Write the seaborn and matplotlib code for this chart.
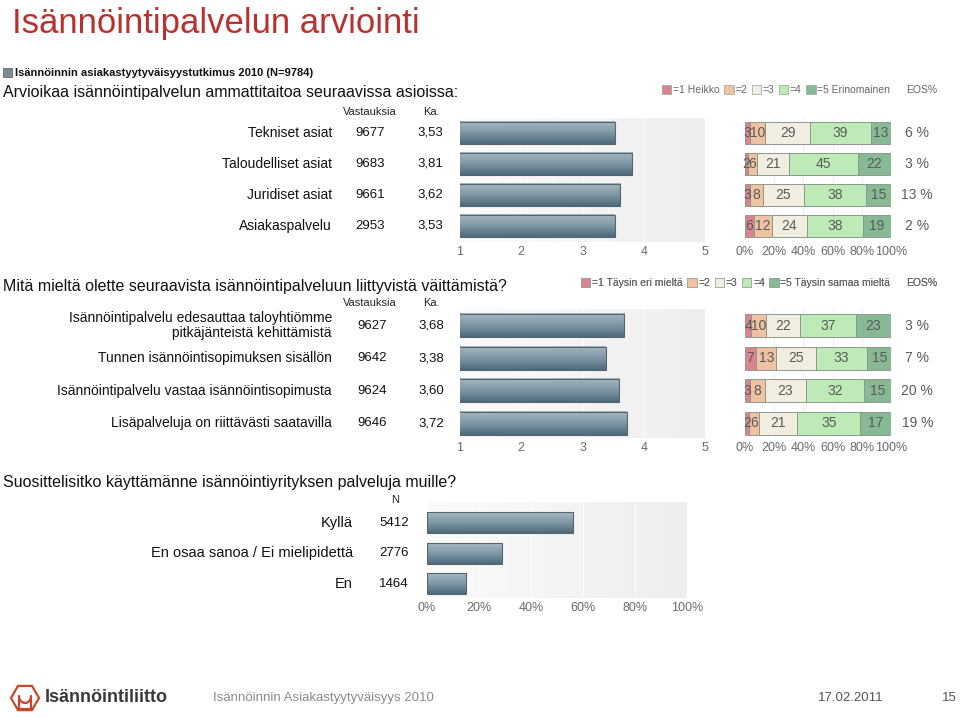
import numpy as np
import pandas as pd
import matplotlib
matplotlib.use("Agg")
import matplotlib.pyplot as plt
import seaborn as sns
from matplotlib.patches import Patch, Rectangle, RegularPolygon, Arc
from matplotlib.transforms import blended_transform_factory

# --- data ---
ammatti_items = ["Tekniset asiat", "Taloudelliset asiat", "Juridiset asiat", "Asiakaspalvelu"]
ammatti_n = [9677, 9683, 9661, 2953]
ammatti_ka = [3.53, 3.81, 3.62, 3.53]
ammatti_jakauma = [[3, 10, 29, 39, 13], [2, 6, 21, 45, 22], [3, 8, 25, 38, 15], [6, 12, 24, 38, 19]]
ammatti_eos = [6, 3, 13, 2]
ammatti_legend = ["=1 Heikko", "=2", "=3", "=4", "=5 Erinomainen"]

vaite_items = ["Isännöintipalvelu edesauttaa taloyhtiömme\npitkäjänteistä kehittämistä",
               "Tunnen isännöintisopimuksen sisällön",
               "Isännöintipalvelu vastaa isännöintisopimusta",
               "Lisäpalveluja on riittävästi saatavilla"]
vaite_n = [9627, 9642, 9624, 9646]
vaite_ka = [3.68, 3.38, 3.60, 3.72]
vaite_jakauma = [[4, 10, 22, 37, 23], [7, 13, 25, 33, 15], [3, 8, 23, 32, 15], [2, 6, 21, 35, 17]]
vaite_eos = [3, 7, 20, 19]
vaite_legend = ["=1 Täysin eri mieltä", "=2", "=3", "=4", "=5 Täysin samaa mieltä"]

suositus_items = ["Kyllä", "En osaa sanoa / Ei mielipidettä", "En"]
suositus_n = [5412, 2776, 1464]

stack_colors = ["#d9848f", "#efc3a2", "#f1ede0", "#bdeab6", "#86b994"]
GREY = "#5a5a5a"

sns.set_theme(style="white")
plt.rcParams["font.family"] = ["Liberation Sans", "DejaVu Sans"]

W, H = 960, 717
fig = plt.figure(figsize=(W / 100, H / 100), dpi=100)

ov = fig.add_axes([0, 0, 1, 1])
ov.set_xlim(0, W)
ov.set_ylim(H, 0)
ov.axis("off")


def px(x0, y0, x1, y1):
    return [x0 / W, 1 - y1 / H, (x1 - x0) / W, (y1 - y0) / H]


def bar_gradient(ax):
    grad = np.linspace(0, 1, 64).reshape(-1, 1)
    cmap = matplotlib.colors.LinearSegmentedColormap.from_list("bar", ["#a7b9c3", "#7f97a4", "#4e6a7b"])
    for p in list(ax.patches):
        x0, y0 = p.get_x(), p.get_y()
        x1, y1 = x0 + p.get_width(), y0 + p.get_height()
        im = ax.imshow(grad, extent=(x0, x1, y1, y0), cmap=cmap, aspect="auto",
                       origin="upper", zorder=2, interpolation="bilinear")
        im.set_clip_path(p)
        im.set_clip_box(ax.bbox)
        p.set_facecolor("none")
        p.set_edgecolor("#56656e")
        p.set_linewidth(0.8)
        p.set_zorder(3)


def panel_bg(ax):
    g = np.linspace(0, 1, 64).reshape(1, -1)
    cmap = matplotlib.colors.LinearSegmentedColormap.from_list("bg", ["#fbfbfb", "#eeeeee"])
    ax.imshow(g, extent=(0, 1, 0, 1), transform=ax.transAxes, cmap=cmap,
              aspect="auto", zorder=0, interpolation="bilinear")


def style_axis(ax):
    for s in ax.spines.values():
        s.set_visible(False)
    ax.tick_params(axis="both", length=0, labelsize=9, labelcolor="#6a6a6a", pad=3)
    ax.set_ylabel("")
    ax.set_xlabel("")
    ax.set_yticks([])


def mean_panel(rect, items, ka, ylim):
    ax = fig.add_axes(rect)
    df = pd.DataFrame({"item": items, "ka": ka})
    sns.barplot(data=df, x="ka", y="item", orient="h", color="#6a8494", width=0.71, ax=ax)
    bar_gradient(ax)
    panel_bg(ax)
    for v in [2, 3, 4]:
        ax.axvline(v, color="#ffffff", lw=0.8, alpha=0.8, zorder=1)
    ax.set_xlim(1, 5)
    ax.set_ylim(*ylim)
    ax.set_xticks([1, 2, 3, 4, 5])
    style_axis(ax)
    return ax


def stack_panel(rect, jakauma, eos, ylim):
    ax = fig.add_axes(rect)
    arr = np.array(jakauma, dtype=float)
    shares = arr / arr.sum(axis=1, keepdims=True) * 100
    left = np.zeros(len(arr))
    ypos = np.arange(len(arr))
    for k in range(arr.shape[1]):
        ax.barh(ypos, shares[:, k], left=left, height=0.71, color=stack_colors[k],
                edgecolor="#8c9a8c", linewidth=0.7, zorder=2)
        for i in range(len(arr)):
            ax.text(left[i] + shares[i, k] / 2, ypos[i], f"{int(arr[i, k])}", ha="center",
                    va="center", fontsize=10, color=GREY, zorder=4)
        left += shares[:, k]
    for i, e in enumerate(eos):
        ax.text(118, ypos[i], f"{e} %", ha="center", va="center", fontsize=10,
                color=GREY, clip_on=False)
    for v in [20, 40, 60, 80]:
        ax.axvline(v, color="#eeeeee", lw=0.8, zorder=0)
    ax.set_xlim(0, 100)
    ax.set_ylim(*ylim)
    ax.set_xticks([0, 20, 40, 60, 80, 100])
    ax.set_xticklabels([f"{t}%" for t in [0, 20, 40, 60, 80, 100]])
    style_axis(ax)
    return ax


def row_texts(ax, items, n, ka, x_label, x_n, x_ka, fs=10):
    tr = blended_transform_factory(ov.transData, ax.transData)
    for i, (lab, nn) in enumerate(zip(items, n)):
        ax.text(x_label, i, lab, transform=tr, ha="right", va="center", fontsize=fs,
                color="#111111", clip_on=False, linespacing=1.05)
        ax.text(x_n, i, f"{nn}", transform=tr, ha="center", va="center", fontsize=9.5,
                color="#111111", clip_on=False)
        if ka is not None:
            ax.text(x_ka, i, f"{ka[i]:.2f}".replace(".", ","), transform=tr, ha="center",
                    va="center", fontsize=9.5, color="#111111", clip_on=False)


def legend(labels, x_right, y):
    handles = [Patch(facecolor=c, edgecolor="#9aa09a", linewidth=0.5) for c in stack_colors]
    handles.append(Patch(facecolor="none", edgecolor="none"))
    lg = ov.legend(handles, labels + ["EOS%"], loc="center right", bbox_to_anchor=(x_right, y),
                   bbox_transform=ov.transData, ncol=6, frameon=False, fontsize=7.5,
                   handlelength=0.9, handleheight=0.9, handletextpad=0.15, columnspacing=0.45,
                   borderaxespad=0, borderpad=0)
    for t in lg.get_texts():
        t.set_color("#666666")
    ov.add_artist(lg)
    return lg


# --- header ---
ov.text(12, 33, "Isännöintipalvelun arviointi", fontsize=25, color="#b8312f", ha="left", va="baseline")
ov.add_patch(Rectangle((3, 68), 9, 9, facecolor="#7d8c96", edgecolor="#555555", lw=0.5))
ov.text(15, 72.5, "Isännöinnin asiakastyytyväisyystutkimus 2010 (N=9784)", fontsize=8,
        fontweight="bold", ha="left", va="center", color="#111111")

# --- section 1 ---
ov.text(3, 93, "Arvioikaa isännöintipalvelun ammattitaitoa seuraavissa asioissa:",
        fontsize=11.5, ha="left", va="center", color="#111111")
ov.text(370, 112, "Vastauksia", fontsize=8, ha="center", va="center", color="#222222")
ov.text(431, 112, "Ka.", fontsize=8, ha="center", va="center", color="#222222")
a1 = mean_panel(px(460, 118, 705, 242), ammatti_items, ammatti_ka, (3.52, -0.48))
s1 = stack_panel(px(745, 118, 891, 242), ammatti_jakauma, ammatti_eos, (3.52, -0.48))
row_texts(a1, ammatti_items, ammatti_n, ammatti_ka, 332, 370, 430)
legend(ammatti_legend, 937, 90)

# --- section 2 ---
ov.text(3, 287, "Mitä mieltä olette seuraavista isännöintipalveluun liittyvistä väittämistä?",
        fontsize=11.5, ha="left", va="center", color="#111111")
ov.text(370, 303, "Vastauksia", fontsize=8, ha="center", va="center", color="#222222")
ov.text(431, 303, "Ka.", fontsize=8, ha="center", va="center", color="#222222")
a2 = mean_panel(px(460, 309, 705, 438), vaite_items, vaite_ka, (3.46, -0.51))
s2 = stack_panel(px(745, 309, 891, 438), vaite_jakauma, vaite_eos, (3.46, -0.51))
row_texts(a2, vaite_items, vaite_n, vaite_ka, 332, 372, 431)
legend(vaite_legend, 937, 283)

# --- section 3 ---
ov.text(3, 483, "Suosittelisitko käyttämänne isännöintiyrityksen palveluja muille?",
        fontsize=11.5, ha="left", va="center", color="#111111")
ov.text(395, 500, "N", fontsize=8, ha="center", va="center", color="#222222")
a3 = fig.add_axes(px(427, 502, 687, 598))
df3 = pd.DataFrame({"item": suositus_items,
                    "osuus": np.array(suositus_n) / np.sum(suositus_n) * 100})
sns.barplot(data=df3, x="osuus", y="item", orient="h", color="#6a8494", width=0.68, ax=a3)
bar_gradient(a3)
panel_bg(a3)
for v in [20, 40, 60, 80]:
    a3.axvline(v, color="#ffffff", lw=0.8, alpha=0.8, zorder=1)
a3.set_xlim(0, 100)
a3.set_ylim(2.46, -0.67)
a3.set_xticks([0, 20, 40, 60, 80, 100])
a3.set_xticklabels([f"{t}%" for t in [0, 20, 40, 60, 80, 100]])
style_axis(a3)
row_texts(a3, suositus_items, suositus_n, None, 353, 394, None, fs=10.5)

# --- footer ---
ov.add_patch(RegularPolygon((25, 698), 6, radius=14, orientation=np.pi / 6, facecolor="none",
                            edgecolor="#c8472c", lw=1.6))
ov.add_patch(Arc((25, 696), 12, 14, theta1=0, theta2=180, color="#c8472c", lw=1.6))
ov.plot([19, 19, 31, 31], [696, 709, 709, 696], color="#c8472c", lw=1.6)
ov.text(45, 698, "Isännöintiliitto", fontsize=13, fontweight="bold", color="#3a3a3a",
        ha="left", va="center")
ov.text(213, 698, "Isännöinnin Asiakastyytyväisyys 2010", fontsize=9.5, color="#8a8a8a",
        ha="left", va="center")
ov.text(818, 698, "17.02.2011", fontsize=9.5, color="#555555", ha="left", va="center")
ov.text(957, 698, "15", fontsize=9.5, color="#555555", ha="right", va="center")

fig.savefig("out.png", dpi=100)
